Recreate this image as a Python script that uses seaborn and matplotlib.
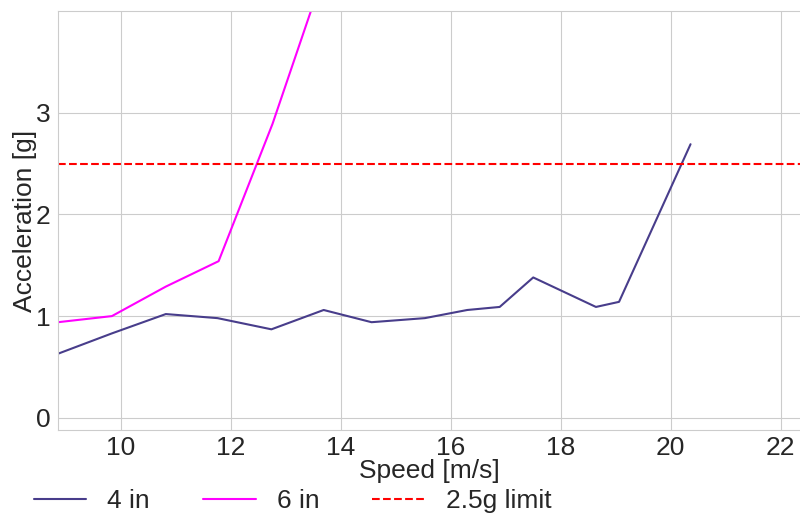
import matplotlib
matplotlib.use("Agg")
import matplotlib.pyplot as plt
import seaborn as sns
import pandas as pd

# 4 in spring data
speed_4in = [8.86, 9.84, 10.82, 11.76, 12.74, 13.69, 14.56, 15.53, 16.30, 16.89, 17.50, 18.64, 19.06, 20.36]
accel_4in = [0.63, 0.83, 1.02, 0.98, 0.87, 1.06, 0.94, 0.98, 1.06, 1.09, 1.38, 1.09, 1.14, 2.69]

# 6 in spring data
speed_6in = [8.86, 9.84, 10.82, 11.78, 12.76, 13.71]
accel_6in = [0.94, 1.00, 1.29, 1.54, 2.89, 4.40]

limit_g = 2.5
series_labels = ["4 in", "6 in", "2.5g limit"]
x_ticks = [10, 12, 14, 16, 18, 20, 22]
y_ticks = [0, 1, 2, 3]

sns.set_style("whitegrid")
plt.rcParams["font.family"] = ["Liberation Sans", "DejaVu Sans"]
FS = 19

fig = plt.figure(figsize=(8.0, 5.18), dpi=100)
ax = fig.add_axes([58 / 800, 1 - 430 / 518, 1 - 58 / 800, (430 - 11) / 518])

df4 = pd.DataFrame({"speed": speed_4in, "accel": accel_4in})
df6 = pd.DataFrame({"speed": speed_6in, "accel": accel_6in})
sns.lineplot(data=df4, x="speed", y="accel", ax=ax, color="#483d8b", lw=1.5,
             label=series_labels[0], legend=False, estimator=None, sort=False)
sns.lineplot(data=df6, x="speed", y="accel", ax=ax, color="#ff00ff", lw=1.5,
             label=series_labels[1], legend=False, estimator=None, sort=False)
ax.axhline(limit_g, color="red", ls="--", lw=1.5, label=series_labels[2])

ax.set_xlim(8.86, 22.35)
ax.set_ylim(-0.12, 4.0)
ax.set_xticks(x_ticks)
ax.set_yticks(y_ticks)
ax.tick_params(labelsize=FS, colors="#262626")
ax.tick_params(axis="x", pad=1)
ax.tick_params(axis="y", pad=2)
ax.set_xlabel("Speed [m/s]", fontsize=FS, color="#262626", labelpad=-1)
ax.set_ylabel("Acceleration [g]", fontsize=FS, color="#262626", labelpad=-1)
ax.spines["right"].set_visible(False)

handles, labels = ax.get_legend_handles_labels()
fig.legend(handles, labels, loc="center left", bbox_to_anchor=(23 / 800, 1 - 501 / 518),
           ncol=3, frameon=False, fontsize=FS, borderaxespad=0)

fig.savefig("out.png", dpi=100)
